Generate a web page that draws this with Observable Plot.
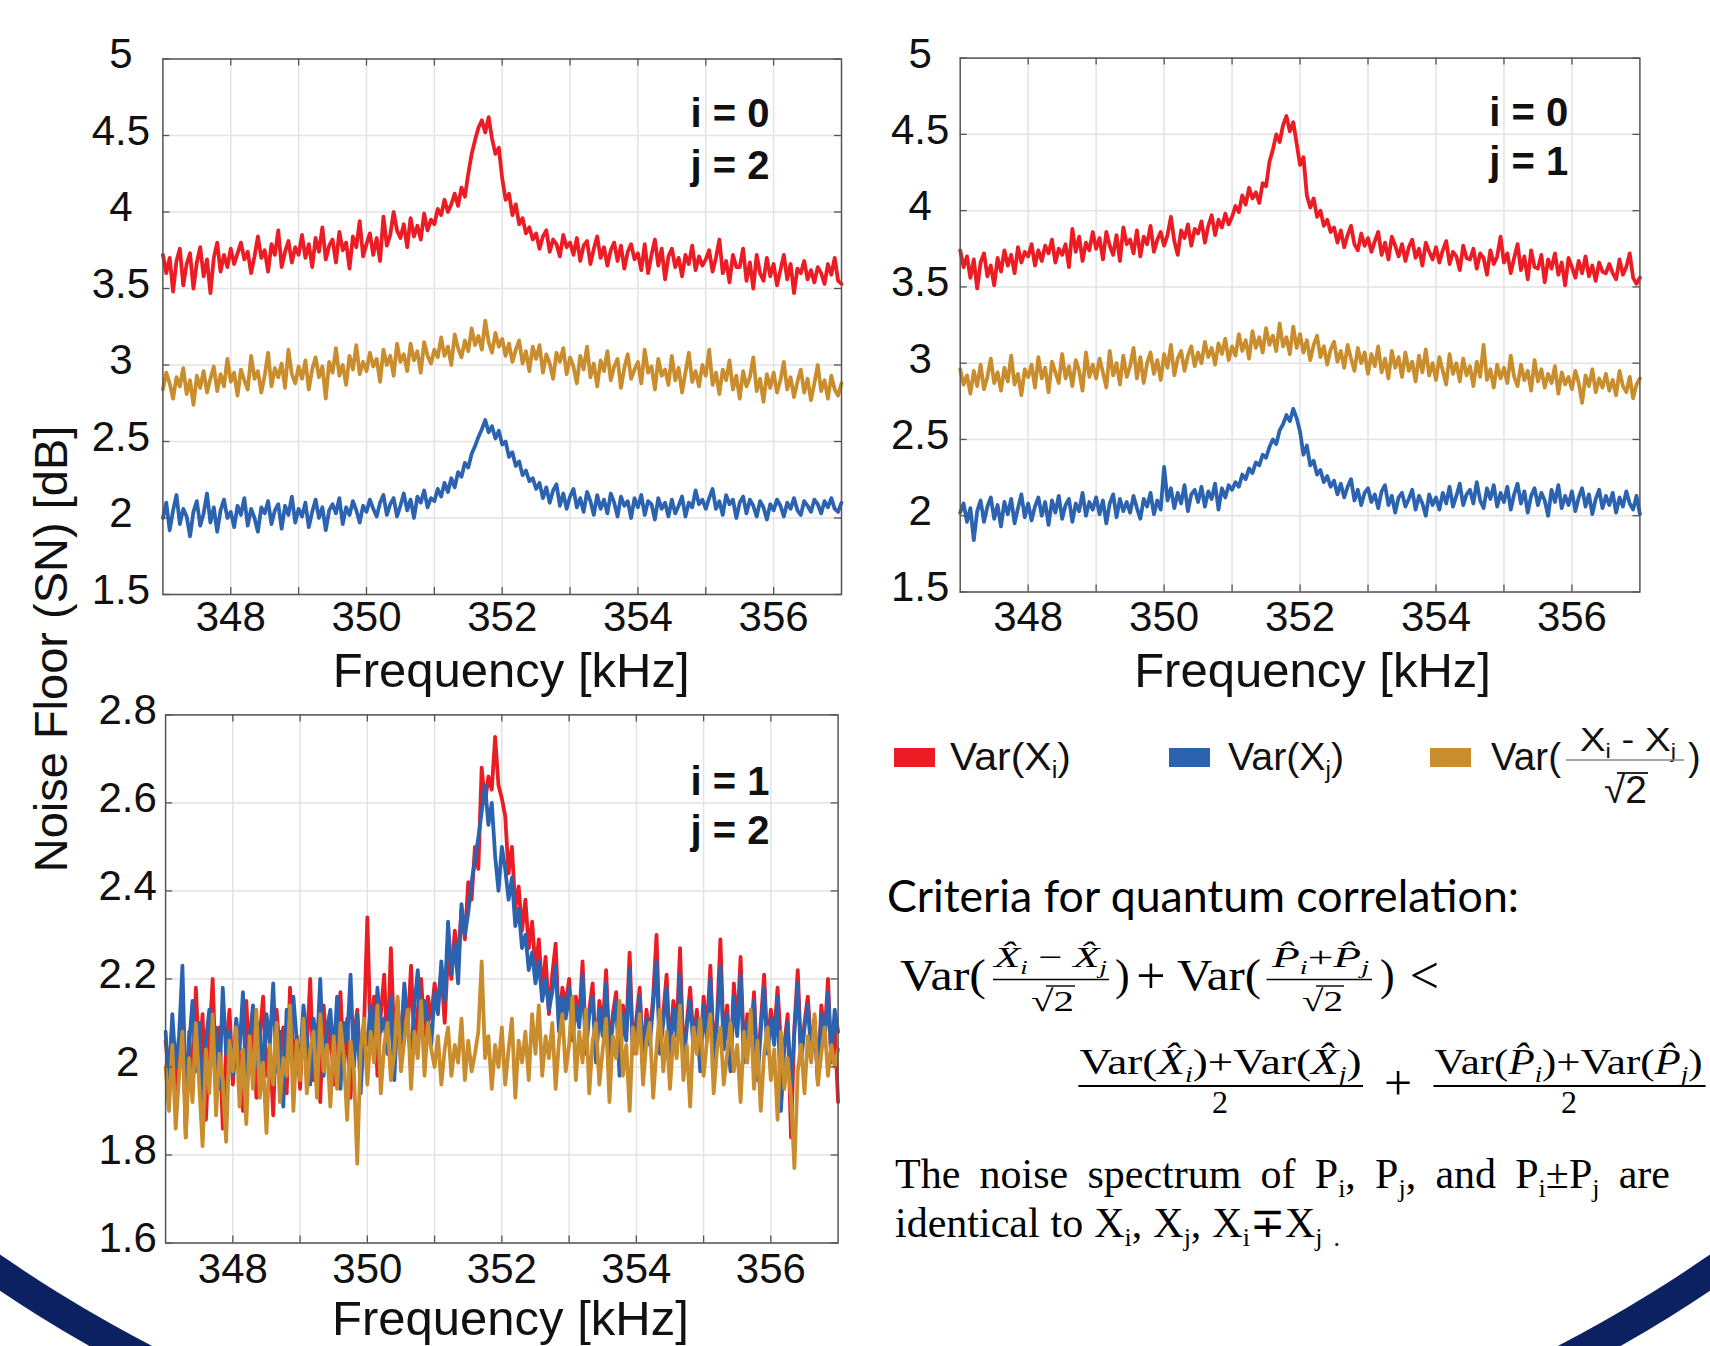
<!DOCTYPE html>
<html><head><meta charset="utf-8">
<script src="https://cdn.jsdelivr.net/npm/d3@7"></script>
<script src="https://cdn.jsdelivr.net/npm/@observablehq/plot@0.6"></script>
<style>
body{margin:0;background:#fff}
#page{position:relative;width:1710px;height:1346px;overflow:hidden;background:#fff}
#ring{position:absolute;left:-515px;top:-765px;width:2740px;height:2308px;border-radius:50%;border:30px solid #0b2161;box-sizing:border-box}
.panel{position:absolute}
#overlay{position:absolute;left:0;top:0}
</style></head><body>
<div id="page">
<div id="ring"></div>
<div class="panel" id="pA" style="left:0;top:0"></div>
<div class="panel" id="pB" style="left:860px;top:0"></div>
<div class="panel" id="pC" style="left:0;top:640px"></div>
<svg id="overlay" width="1710" height="1346"></svg>
</div>
<script>
// frequency sampling of every trace: 347 kHz + k * 0.05 kHz, k = 0..200
const freqStart = 347, freqStep = 0.05;

// ---- panel A: i = 0, j = 2 ----
const aRed = [
3.72,3.60,3.70,3.48,3.68,3.76,3.52,3.66,3.73,3.50,
3.67,3.77,3.58,3.69,3.47,3.70,3.80,3.61,3.72,3.64,
3.76,3.66,3.73,3.80,3.69,3.74,3.60,3.71,3.84,3.70,
3.75,3.61,3.79,3.72,3.88,3.64,3.74,3.81,3.67,3.77,
3.72,3.85,3.70,3.79,3.64,3.83,3.74,3.90,3.69,3.78,
3.82,3.67,3.87,3.75,3.80,3.63,3.84,3.77,3.94,3.71,
3.79,3.86,3.72,3.83,3.68,3.97,3.78,3.85,4.00,3.88,
3.83,3.92,3.77,3.96,3.84,3.91,3.82,3.99,3.88,3.95,
3.92,4.02,3.98,4.08,4.00,4.05,4.12,4.04,4.16,4.10,
4.25,4.38,4.47,4.55,4.60,4.52,4.62,4.48,4.38,4.42,
4.22,4.08,4.12,3.98,4.05,3.92,3.96,3.86,3.90,3.82,
3.86,3.76,3.84,3.88,3.74,3.82,3.79,3.71,3.85,3.77,
3.80,3.72,3.83,3.68,3.78,3.81,3.66,3.76,3.84,3.70,
3.77,3.65,3.75,3.80,3.68,3.78,3.63,3.74,3.79,3.69,
3.73,3.62,3.79,3.60,3.72,3.82,3.65,3.76,3.56,3.71,
3.76,3.64,3.70,3.58,3.72,3.66,3.78,3.62,3.71,3.65,
3.69,3.75,3.61,3.70,3.82,3.60,3.68,3.54,3.72,3.64,
3.64,3.76,3.55,3.67,3.50,3.72,3.60,3.55,3.70,3.58,
3.66,3.52,3.62,3.72,3.56,3.66,3.47,3.63,3.60,3.68,
3.56,3.62,3.54,3.64,3.60,3.53,3.66,3.59,3.70,3.55,
3.53];
const aGold = [
2.84,2.95,2.88,2.78,2.92,2.86,2.98,2.81,2.90,2.74,
2.93,2.85,2.96,2.82,2.91,2.99,2.83,2.94,2.86,3.04,
2.89,2.95,2.80,2.97,2.90,2.84,3.06,2.91,2.96,2.82,
2.93,3.08,2.86,2.98,2.92,3.01,2.85,3.10,2.94,2.88,
2.99,2.91,3.03,2.84,2.97,3.05,2.92,2.99,2.78,3.02,
2.95,3.11,2.93,3.00,2.87,3.06,2.97,3.13,2.94,3.02,
2.96,3.08,2.99,3.04,2.89,3.10,3.00,3.06,2.93,3.14,
3.02,3.07,2.96,3.14,3.03,3.09,2.95,3.15,3.06,3.01,
3.10,3.05,3.18,3.06,3.12,3.00,3.20,3.11,3.05,3.16,
3.09,3.24,3.13,3.19,3.10,3.29,3.15,3.08,3.21,3.12,
3.17,3.06,3.14,3.02,3.10,3.16,3.01,3.09,2.96,3.12,
3.04,3.13,2.95,3.07,3.01,2.91,3.08,3.02,3.11,2.94,
3.05,2.99,2.88,3.06,2.97,3.12,2.92,3.01,2.86,3.03,
2.96,3.09,2.90,2.99,3.04,2.85,2.98,3.07,2.91,2.97,
3.02,2.88,3.10,2.95,2.99,2.84,3.04,2.93,2.97,2.87,
3.06,2.90,2.98,2.82,2.95,3.08,2.89,2.96,2.86,3.00,
2.93,3.10,2.87,2.95,2.81,2.97,2.90,3.03,2.84,2.93,
2.78,2.96,2.86,2.92,3.05,2.83,2.91,2.76,2.94,2.85,
2.95,2.82,2.90,3.02,2.84,2.92,2.79,2.89,2.97,2.82,
2.91,2.77,2.88,3.00,2.83,2.90,2.78,2.93,2.84,2.80,
2.88];
const aBlue = [
2.00,2.10,1.92,2.05,2.15,1.96,2.06,2.01,1.88,2.04,
2.11,1.95,2.03,2.16,1.97,2.07,1.91,2.05,2.12,2.00,
2.04,1.94,2.08,2.02,2.13,1.95,2.06,2.00,1.91,2.07,
2.03,2.11,1.96,2.05,2.09,1.93,2.08,2.02,2.14,1.97,
2.06,2.01,2.10,1.94,2.04,2.12,2.00,2.07,1.92,2.05,
2.09,2.03,2.13,1.96,2.07,2.02,2.11,2.05,1.97,2.08,
2.04,2.12,2.06,2.01,2.10,2.15,2.02,2.09,2.13,2.01,
2.08,2.16,2.05,2.12,2.00,2.14,2.10,2.18,2.07,2.13,
2.11,2.19,2.14,2.23,2.17,2.26,2.20,2.30,2.27,2.36,
2.33,2.42,2.47,2.53,2.58,2.64,2.56,2.60,2.52,2.57,
2.48,2.50,2.40,2.43,2.34,2.37,2.28,2.31,2.24,2.26,
2.19,2.23,2.13,2.20,2.10,2.18,2.22,2.08,2.16,2.06,
2.14,2.19,2.07,2.13,2.04,2.17,2.11,2.02,2.15,2.06,
2.12,2.03,2.16,2.10,2.01,2.14,2.08,2.11,2.00,2.13,
2.07,2.15,2.02,2.11,2.09,1.99,2.13,2.06,2.10,2.01,
2.12,2.03,2.08,2.14,2.01,2.10,2.07,2.18,2.09,2.12,
2.06,2.13,2.19,2.06,2.11,2.02,2.15,2.09,2.12,2.00,
2.10,2.14,2.03,2.12,2.08,2.01,2.11,2.07,1.99,2.09,
2.05,2.12,2.08,2.01,2.10,2.06,2.13,2.05,2.02,2.11,
2.08,2.04,2.12,2.09,2.03,2.11,2.07,2.13,2.06,2.04,
2.10];

// ---- panel B: i = 0, j = 1 ----
const bRed = [
3.74,3.63,3.70,3.56,3.68,3.49,3.66,3.72,3.57,3.64,
3.51,3.69,3.60,3.74,3.64,3.71,3.59,3.76,3.66,3.73,
3.70,3.78,3.64,3.74,3.67,3.77,3.72,3.81,3.66,3.75,
3.71,3.78,3.63,3.88,3.73,3.83,3.67,3.79,3.74,3.86,
3.75,3.82,3.68,3.86,3.77,3.71,3.84,3.67,3.89,3.78,
3.81,3.72,3.87,3.70,3.83,3.78,3.90,3.73,3.81,3.86,
3.77,3.84,3.96,3.80,3.71,3.87,3.82,3.91,3.77,3.88,
3.85,3.93,3.79,3.90,3.97,3.84,3.94,3.89,3.98,3.91,
3.96,4.03,3.99,4.10,4.04,4.15,4.08,4.12,4.05,4.18,
4.16,4.32,4.40,4.50,4.45,4.56,4.62,4.52,4.58,4.44,
4.30,4.35,4.10,4.02,4.08,3.96,4.00,3.90,3.94,3.86,
3.89,3.79,3.87,3.76,3.84,3.90,3.78,3.74,3.85,3.77,
3.82,3.73,3.80,3.86,3.71,3.79,3.68,3.83,3.77,3.70,
3.78,3.67,3.76,3.81,3.69,3.75,3.64,3.79,3.73,3.68,
3.76,3.66,3.74,3.80,3.65,3.73,3.70,3.61,3.77,3.69,
3.68,3.75,3.62,3.72,3.69,3.58,3.74,3.65,3.70,3.83,
3.66,3.72,3.59,3.69,3.78,3.61,3.70,3.55,3.74,3.63,
3.62,3.71,3.53,3.68,3.62,3.72,3.58,3.66,3.51,3.69,
3.63,3.56,3.67,3.59,3.70,3.57,3.64,3.54,3.66,3.60,
3.59,3.65,3.59,3.55,3.68,3.58,3.63,3.72,3.56,3.52,
3.56];
const bGold = [
2.96,2.86,2.92,2.80,2.95,2.85,2.99,2.83,2.91,3.03,
2.87,2.94,2.82,2.97,2.88,3.05,2.86,2.93,2.79,2.96,
2.91,2.99,2.84,3.04,2.90,2.97,2.81,3.01,2.94,2.87,
3.06,2.90,2.98,2.85,3.02,2.95,2.82,3.07,2.91,2.99,
2.90,3.03,2.94,2.84,3.08,2.92,3.00,2.86,3.05,2.91,
2.98,3.10,2.90,3.04,2.87,3.00,3.07,2.93,3.02,2.89,
3.06,2.97,3.12,2.92,3.03,3.08,2.95,3.05,3.11,2.98,
3.07,3.00,3.14,3.04,3.10,2.99,3.13,3.06,3.16,3.02,
3.11,3.05,3.19,3.08,3.15,3.03,3.21,3.10,3.17,3.07,
3.23,3.12,3.18,3.08,3.26,3.11,3.17,3.06,3.24,3.10,
3.19,3.07,3.15,3.02,3.12,3.18,3.04,3.11,2.99,3.09,
3.14,3.01,3.08,2.97,3.12,3.03,2.95,3.10,3.00,3.07,
2.93,3.06,2.98,3.11,2.94,3.03,2.90,3.08,2.97,3.04,
2.91,3.07,2.95,3.01,2.88,3.05,2.94,3.09,2.92,3.00,
2.89,3.04,2.95,2.86,3.06,2.93,3.00,2.88,3.03,2.92,
2.98,2.85,3.01,2.91,3.12,2.89,2.96,2.84,2.99,2.90,
2.97,2.87,3.05,2.91,2.85,2.99,2.89,2.95,2.82,3.02,
2.88,2.96,2.84,2.93,2.87,2.98,2.80,2.94,2.86,2.91,
2.83,2.95,2.87,2.74,2.92,2.85,2.96,2.81,2.90,2.84,
2.93,2.82,2.89,2.79,2.95,2.85,2.81,2.91,2.77,2.86,
2.90];
const bBlue = [
2.02,2.08,1.96,2.05,1.84,2.03,2.10,1.96,2.06,2.12,
1.98,2.07,1.93,2.09,2.01,2.11,1.95,2.05,2.14,1.99,
2.08,1.97,2.06,2.12,2.00,2.09,1.94,2.10,2.02,2.13,
1.98,2.07,2.11,1.96,2.08,2.03,2.15,2.00,2.09,2.04,
2.12,2.01,2.10,1.95,2.08,2.14,1.99,2.11,2.03,2.09,
2.02,2.13,2.05,1.98,2.11,2.06,2.15,2.01,2.10,2.04,
2.32,2.10,2.18,2.05,2.15,2.08,2.20,2.03,2.14,2.17,
2.09,2.19,2.06,2.16,2.11,2.21,2.04,2.18,2.12,2.20,
2.17,2.22,2.19,2.27,2.24,2.31,2.28,2.35,2.33,2.40,
2.38,2.45,2.50,2.47,2.56,2.60,2.66,2.62,2.70,2.64,
2.55,2.40,2.46,2.33,2.36,2.27,2.30,2.22,2.26,2.19,
2.23,2.14,2.21,2.12,2.19,2.24,2.10,2.17,2.07,2.15,
2.18,2.09,2.14,2.05,2.16,2.20,2.07,2.13,2.02,2.12,
2.15,2.06,2.11,2.17,2.04,2.13,2.08,2.00,2.14,2.07,
2.12,2.04,2.15,2.08,2.19,2.06,2.13,2.21,2.07,2.14,
2.17,2.08,2.22,2.10,2.05,2.18,2.11,2.20,2.06,2.15,
2.09,2.19,2.04,2.14,2.21,2.08,2.16,2.02,2.13,2.18,
2.07,2.15,2.10,2.00,2.17,2.09,2.20,2.05,2.13,2.07,
2.16,2.03,2.12,2.18,2.06,2.14,2.01,2.11,2.17,2.05,
2.13,2.07,2.15,2.02,2.12,2.06,2.16,2.08,2.04,2.13,
2.01];

// ---- panel C: i = 1, j = 2 ----
const cRed = [
2.06,1.98,2.10,1.91,2.03,2.14,1.84,2.08,1.95,2.18,
2.01,2.12,1.88,2.06,2.20,1.97,2.09,1.86,2.04,2.13,
1.96,2.08,2.02,1.90,2.15,2.00,2.11,1.93,2.07,2.16,
1.98,2.05,1.89,2.13,2.03,2.09,1.94,2.18,2.01,2.07,
1.95,2.12,2.04,2.20,1.97,2.08,1.92,2.14,2.02,2.10,
1.96,2.06,2.17,1.99,2.11,1.93,2.07,2.13,2.00,2.09,
2.34,2.05,2.16,1.98,2.12,2.21,2.03,2.27,2.06,2.15,
2.01,2.18,2.09,2.23,2.04,2.13,2.20,2.07,2.16,2.11,
2.19,2.14,2.22,2.10,2.26,2.20,2.31,2.24,2.36,2.29,
2.42,2.38,2.50,2.45,2.68,2.60,2.66,2.63,2.75,2.64,
2.61,2.57,2.44,2.50,2.36,2.41,2.31,2.38,2.27,2.33,
2.22,2.29,2.17,2.25,2.12,2.21,2.28,2.09,2.18,2.14,
2.20,2.08,2.16,2.11,2.24,2.05,2.13,2.19,2.02,2.15,
2.09,2.22,2.04,2.12,2.17,2.00,2.14,2.08,2.26,2.03,
2.11,2.18,2.01,2.13,2.07,2.16,2.30,2.05,2.12,2.21,
2.03,2.15,2.09,2.27,2.02,2.10,2.18,2.06,2.13,2.01,
2.16,2.08,2.23,2.04,2.11,2.29,2.05,2.14,2.00,2.19,
2.09,2.25,2.03,2.12,2.06,2.17,1.98,2.10,2.21,2.04,
2.13,2.07,2.18,2.05,2.05,2.12,1.84,2.09,2.22,2.02,
2.10,2.16,2.04,2.11,1.96,2.14,2.07,2.20,2.01,2.09,
1.92];
const cBlue = [
2.08,1.96,2.12,2.00,2.07,2.23,1.93,2.05,2.15,1.99,
2.10,1.92,2.06,2.13,2.01,2.09,1.95,2.18,2.03,2.08,
1.98,2.11,2.04,2.17,1.94,2.07,2.14,2.00,2.10,1.97,
2.12,2.05,2.19,1.99,2.08,1.91,2.13,2.03,2.16,2.06,
2.01,2.14,2.07,1.96,2.11,2.04,2.20,1.98,2.09,2.13,
2.02,2.16,1.95,2.10,2.06,2.21,2.00,2.12,1.94,2.08,
2.05,2.14,2.02,2.18,2.08,2.11,2.03,2.16,1.97,2.13,
2.06,2.19,2.09,2.02,2.14,2.22,2.07,2.15,2.11,2.05,
2.17,2.12,2.24,2.15,2.33,2.21,2.28,2.19,2.37,2.30,
2.35,2.42,2.47,2.52,2.58,2.64,2.55,2.60,2.48,2.40,
2.50,2.45,2.38,2.43,2.32,2.36,2.27,2.30,2.22,2.26,
2.19,2.24,2.15,2.20,2.13,2.17,2.23,2.08,2.16,2.11,
2.18,2.06,2.14,2.09,2.21,2.03,2.12,2.16,2.01,2.13,
2.07,2.19,2.02,2.10,2.15,1.98,2.12,2.06,2.22,2.04,
2.09,2.16,2.00,2.11,2.05,2.14,2.24,2.03,2.10,2.18,
2.02,2.13,2.07,2.21,2.00,2.09,2.15,2.04,2.11,1.99,
2.14,2.06,2.20,2.02,2.10,2.23,2.04,2.12,1.99,2.16,
2.07,2.21,2.01,2.10,2.05,2.15,1.97,2.08,2.18,2.03,
2.11,2.05,2.16,1.90,2.04,2.10,1.96,2.08,2.19,2.01,
2.09,2.14,2.03,2.10,1.97,2.12,2.06,2.17,2.02,2.13,
2.08];
const cGold = [
2.00,1.90,2.05,1.86,1.98,2.08,1.84,2.02,1.92,2.10,
1.96,1.82,2.04,1.94,2.12,1.89,2.03,1.97,1.83,2.06,
1.99,2.09,1.91,2.04,1.87,2.07,1.95,2.13,1.93,2.01,
1.85,2.05,1.96,2.10,1.92,2.02,1.98,2.14,1.90,2.06,
1.97,2.11,1.94,2.04,2.08,1.93,2.12,1.99,2.05,1.91,
2.07,1.95,2.10,2.02,1.88,2.06,1.99,1.78,2.04,2.11,
1.96,2.08,2.01,2.14,1.94,2.05,2.10,1.97,2.03,2.16,
1.99,2.06,2.13,1.95,2.08,2.02,2.15,1.98,2.10,2.04,
2.00,2.07,1.96,2.04,2.09,1.98,2.05,2.01,2.11,1.97,
2.06,1.99,2.03,2.08,2.24,2.02,2.07,1.95,2.05,2.00,
2.09,1.96,2.04,2.11,1.93,2.06,2.01,2.08,1.97,2.12,
2.03,2.14,1.98,2.07,2.02,2.10,1.95,2.06,2.12,1.99,
2.05,2.16,1.97,2.08,2.01,2.13,1.94,2.06,2.10,1.96,
2.04,2.11,1.92,2.07,2.02,2.15,1.98,2.05,1.90,2.09,
2.03,2.12,1.96,2.06,2.10,1.93,2.04,2.13,1.99,2.08,
1.95,2.07,2.02,2.14,1.97,2.05,1.91,2.09,2.03,2.11,
1.98,2.06,2.12,1.94,2.04,2.09,1.96,2.03,2.10,1.99,
2.05,1.92,2.08,2.01,2.13,1.95,2.06,1.90,2.03,2.09,
1.97,2.04,1.88,2.08,1.95,2.02,1.93,1.77,1.99,2.05,
1.94,2.07,2.01,2.12,1.96,2.03,2.09,1.98,2.05,2.00,
2.04];

// ---- axes, labels, legend ----
const xGridTicks = [348, 349, 350, 351, 352, 353, 354, 355, 356];
const xTickLabels = [348, 350, 352, 354, 356];
const yTicksTop = [1.5, 2, 2.5, 3, 3.5, 4, 4.5, 5];
const yTicksBottom = [1.6, 1.8, 2, 2.2, 2.4, 2.6, 2.8];
const xLabel = "Frequency [kHz]";
const yLabel = "Noise Floor (SN) [dB]";
const panelLabels = [["i = 0", "j = 2"], ["i = 0", "j = 1"], ["i = 1", "j = 2"]];
const legendKeys = ["red", "blue", "gold"];
const legendLabels = ["Var(X_i)", "Var(X_j)"];
const colors = {red: "#ec1c24", blue: "#2c63b0", gold: "#c98d2d"};

const SANS = "'Liberation Sans', Arial, Helvetica, sans-serif";
const SERIF = "'Liberation Serif', 'Times New Roman', serif";

function panel(cfg) {
  const {series, order, yDomain, yTicks, width, height, ml, mr, mt, mb, yPad, xPad, xlabDx, xlabDy, labs, labDx, labDy} = cfg;
  const iw = width - ml - mr, ih = height - mt - mb, tk = 7;
  const rows = key => series[key].map((v, k) => ({f: freqStart + k * freqStep, v}));
  const gridStyle = {stroke: "#e3e3e3", strokeOpacity: 1, strokeWidth: 1.5};
  const tickStyle = {stroke: "#555", strokeWidth: 1.3};
  return Plot.plot({
    width, height, marginLeft: ml, marginRight: mr, marginTop: mt, marginBottom: mb,
    x: {domain: [347, 357], label: null},
    y: {domain: yDomain, label: null},
    style: {background: "transparent", overflow: "visible", fontFamily: SANS, fontSize: "42px", color: "#111", maxWidth: "none"},
    marks: [
      Plot.gridX(xGridTicks, gridStyle),
      Plot.gridY(yTicks, gridStyle),
      ...order.map(key => Plot.lineY(rows(key), {x: "f", y: "v", stroke: colors[key], strokeWidth: 3.8, strokeLinejoin: "round", strokeLinecap: "round"})),
      Plot.tickX(xGridTicks, {x: d => d, insetTop: ih - tk, ...tickStyle}),
      Plot.tickX(xGridTicks, {x: d => d, insetBottom: ih - tk, ...tickStyle}),
      Plot.tickY(yTicks, {y: d => d, insetRight: iw - tk, ...tickStyle}),
      Plot.tickY(yTicks, {y: d => d, insetLeft: iw - tk, ...tickStyle}),
      Plot.frame({stroke: "#555", strokeWidth: 1.5}),
      Plot.axisX(xTickLabels, {tickSize: 0, tickPadding: xPad, fontSize: 42, tickFormat: d => String(d), label: null}),
      Plot.axisY(yTicks, {tickSize: 0, tickPadding: yPad, textAnchor: "middle", dy: -4, fontSize: 42, tickFormat: d => String(d), label: null}),
      Plot.text([xLabel], {text: d => d, frameAnchor: "bottom", lineAnchor: "top", dx: xlabDx, dy: xlabDy, fontSize: 49}),
      Plot.text([labs[0]], {text: d => d, frameAnchor: "top-right", textAnchor: "start", lineAnchor: "bottom", dx: -labDx, dy: labDy[0], fontSize: 40, fontWeight: "bold"}),
      Plot.text([labs[1]], {text: d => d, frameAnchor: "top-right", textAnchor: "start", lineAnchor: "bottom", dx: -labDx, dy: labDy[1], fontSize: 40, fontWeight: "bold"})
    ]
  });
}

document.getElementById("pA").append(panel({
  series: {red: aRed, blue: aBlue, gold: aGold}, order: ["red", "gold", "blue"],
  yDomain: [1.5, 5], yTicks: yTicksTop, width: 860, height: 700,
  ml: 162.4, mr: 19, mt: 58.5, mb: 106, yPad: 42, xPad: 7, xlabDx: 9, xlabDy: 58,
  labs: panelLabels[0], labDx: 151, labDy: [68, 119.5]
}));
document.getElementById("pB").append(panel({
  series: {red: bRed, blue: bBlue, gold: bGold}, order: ["red", "gold", "blue"],
  yDomain: [1.5, 5], yTicks: yTicksTop, width: 850, height: 700,
  ml: 99.7, mr: 70.6, mt: 57.6, mb: 108.5, yPad: 40, xPad: 9.5, xlabDx: 12.5, xlabDy: 60,
  labs: panelLabels[1], labDx: 150.7, labDy: [67.4, 116.4]
}));
document.getElementById("pC").append(panel({
  series: {red: cRed, blue: cBlue, gold: cGold}, order: ["red", "blue", "gold"],
  yDomain: [1.6, 2.8], yTicks: yTicksBottom, width: 860, height: 706,
  ml: 165.1, mr: 22.4, mt: 74.4, mb: 103.5, yPad: 38, xPad: 10.5, xlabDx: 8.6, xlabDy: 57,
  labs: panelLabels[2], labDx: 147.6, labDy: [80.3, 129.1]
}));

// ---- overlay text: y label, legend, criteria ----
const ov = d3.select("#overlay");

// mini markup: *...* italic, _c subscript character
function rich(parent, str, o) {
  const {x, y, size, family, len = null, anchor = "start", weight = null, sub = 0.62, shiftK = 0.22, fill = "#000"} = o;
  const t = parent.append("text").attr("x", x).attr("y", y).attr("font-size", size)
    .attr("font-family", family).attr("fill", fill).attr("text-anchor", anchor);
  if (weight) t.attr("font-weight", weight);
  const segs = [];
  let it = false;
  for (let i = 0; i < str.length; i++) {
    const c = str[i];
    if (c === "*") { it = !it; continue; }
    let s = {t: c, it, sub: false};
    if (c === "_") { s = {t: str[i + 1], it, sub: true}; i++; }
    const last = segs[segs.length - 1];
    if (last && last.it === s.it && last.sub === s.sub) last.t += s.t; else segs.push(s);
  }
  let shift = 0;
  for (const s of segs) {
    const sp = t.append("tspan").text(s.t);
    if (s.it) sp.attr("font-style", "italic");
    const target = s.sub ? size * shiftK : 0;
    if (target !== shift) { sp.attr("dy", target - shift); shift = target; }
    if (s.sub) sp.attr("font-size", size * sub);
  }
  if (len) t.attr("textLength", len).attr("lengthAdjust", "spacingAndGlyphs");
  return t;
}
function fitWords(t, target) {
  const natural = t.node().getComputedTextLength();
  const spaces = (t.text().match(/ /g) || []).length;
  if (spaces) t.attr("word-spacing", (target - natural) / spaces);
}
function line(x1, x2, y, w = 1.6, c = "#000") {
  ov.append("line").attr("x1", x1).attr("x2", x2).attr("y1", y).attr("y2", y).attr("stroke", c).attr("stroke-width", w);
}

// y axis title shared by left panels
ov.append("text").attr("transform", "translate(67,649) rotate(-90)").attr("text-anchor", "middle")
  .attr("font-family", SANS).attr("font-size", 47).attr("fill", "#111").text(yLabel);

// legend
const swatchX = [894, 1169, 1430];
legendKeys.forEach((k, i) => ov.append("rect").attr("x", swatchX[i]).attr("y", 748).attr("width", 41).attr("height", 19).attr("fill", colors[k]));
rich(ov, legendLabels[0], {x: 950, y: 770, size: 38, family: SANS, len: 121, fill: "#111"});
rich(ov, legendLabels[1], {x: 1228, y: 770, size: 38, family: SANS, len: 116, fill: "#111"});
rich(ov, "Var(", {x: 1491, y: 770, size: 38, family: SANS, len: 70, fill: "#111"});
rich(ov, "X_i - X_j", {x: 1580, y: 751, size: 33, family: SANS, len: 96, fill: "#111"});
line(1566, 1684, 760, 1.5, "#888");
rich(ov, "√2", {x: 1604, y: 803, size: 38, family: SANS, len: 43, fill: "#111"});
line(1617, 1648, 773, 1.8, "#111");
rich(ov, ")", {x: 1688, y: 770, size: 38, family: SANS, fill: "#111"});

// criteria heading
rich(ov, "Criteria for quantum correlation:", {x: 887, y: 912, size: 44, family: "Lato, 'Open Sans', sans-serif", len: 632});

// inequality, line 1
rich(ov, "Var(", {x: 900, y: 990, size: 44, family: SERIF, len: 86});
rich(ov, "*X\u0302_i* − *X\u0302_j*", {x: 994, y: 967, size: 30, family: SERIF, len: 113});
line(993, 1109, 979.5, 1.5);
rich(ov, "√2", {x: 1031, y: 1011, size: 30, family: SERIF, len: 43});
line(1046, 1075, 986, 1.4);
rich(ov, ")", {x: 1115, y: 990, size: 44, family: SERIF});
rich(ov, "+", {x: 1151, y: 993, size: 52, family: SERIF, anchor: "middle"});
rich(ov, "Var(", {x: 1177, y: 990, size: 44, family: SERIF, len: 84});
rich(ov, "*P\u0302_i*+*P\u0302_j*", {x: 1272, y: 967, size: 30, family: SERIF, len: 97});
line(1266.5, 1372, 979.5, 1.5);
rich(ov, "√2", {x: 1302, y: 1011, size: 30, family: SERIF, len: 41});
line(1316, 1344, 986, 1.4);
rich(ov, ")", {x: 1380, y: 990, size: 44, family: SERIF});
rich(ov, "<", {x: 1424.5, y: 993, size: 52, family: SERIF, anchor: "middle"});

// inequality, line 2
rich(ov, "Var(*X\u0302_i*)+Var(*X\u0302_j*)", {x: 1079.5, y: 1074, size: 36, family: SERIF, len: 282});
line(1078.4, 1363, 1086, 2);
rich(ov, "2", {x: 1220, y: 1113, size: 32, family: SERIF, anchor: "middle"});
rich(ov, "+", {x: 1398, y: 1100, size: 50, family: SERIF, anchor: "middle"});
rich(ov, "Var(*P\u0302_i*)+Var(*P\u0302_j*)", {x: 1434.5, y: 1074, size: 36, family: SERIF, len: 268});
line(1433.4, 1705.5, 1086, 2);
rich(ov, "2", {x: 1569, y: 1113, size: 32, family: SERIF, anchor: "middle"});

// note paragraph
fitWords(rich(ov, "The noise spectrum of P_i, P_j, and P_i±P_j are", {x: 895, y: 1188, size: 42, family: SERIF}), 775);
fitWords(rich(ov, "identical to X_i, X_j, X_i∓X_j _.", {x: 895, y: 1237, size: 42, family: SERIF}), 445);
</script>
</body></html>
